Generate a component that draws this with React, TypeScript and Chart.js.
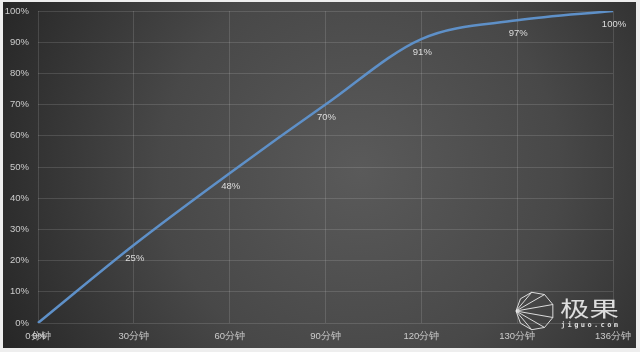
import React, { useEffect, useRef } from "react";
import { Chart, registerables } from "chart.js";

Chart.register(...registerables);

const categories = ["0分钟", "30分钟", "60分钟", "90分钟", "120分钟", "130分钟", "136分钟"];
const chargeValues = [0, 25, 48, 70, 91, 97, 100];
const valueLabels = ["0%", "25%", "48%", "70%", "91%", "97%", "100%"];

const bgPlugin = {
  id: "bgPlugin",
  beforeDraw(chart: any) {
    const { ctx, width, height } = chart;
    ctx.save();
    ctx.fillStyle = "#eeeeee";
    ctx.fillRect(0, 0, width, height);
    const g = ctx.createRadialGradient(360, 170, 0, 360, 170, 400);
    g.addColorStop(0, "#5a5a5a");
    g.addColorStop(0.5, "#484848");
    g.addColorStop(1, "#262626");
    ctx.fillStyle = g;
    ctx.fillRect(3, 2, 633, 346);
    ctx.restore();
  },
  afterDatasetsDraw(chart: any) {
    const { ctx } = chart;
    const meta = chart.getDatasetMeta(0);
    ctx.save();
    ctx.font = "9.5px 'Liberation Sans', Arial, sans-serif";
    ctx.fillStyle = "#dddddd";
    ctx.textAlign = "center";
    ctx.textBaseline = "middle";
    meta.data.forEach((pt: any, i: number) => {
      ctx.fillText(valueLabels[i], pt.x + 1, pt.y + 13);
    });
    // watermark
    const cx = 535, cy = 311, r = 19;
    const n = 9;
    const pts: [number, number][] = [];
    for (let i = 0; i < n; i++) {
      const a = Math.PI + (i * 2 * Math.PI) / n;
      pts.push([cx + r * Math.cos(a), cy + r * Math.sin(a)]);
    }
    ctx.strokeStyle = "rgba(235,235,235,0.9)";
    ctx.lineWidth = 1;
    ctx.beginPath();
    pts.forEach((p, i) => (i === 0 ? ctx.moveTo(p[0], p[1]) : ctx.lineTo(p[0], p[1])));
    ctx.closePath();
    ctx.stroke();
    ctx.beginPath();
    [2, 3, 4, 5, 6, 7].forEach((k) => {
      ctx.moveTo(pts[0][0], pts[0][1]);
      ctx.lineTo(pts[k][0], pts[k][1]);
    });
    ctx.stroke();
    ctx.fillStyle = "rgba(235,235,235,0.92)";
    ctx.textAlign = "left";
    ctx.textBaseline = "alphabetic";
    ctx.save();
    ctx.translate(560, 316);
    ctx.scale(1.4, 1);
    ctx.font = "21px 'Noto Sans CJK SC', sans-serif";
    ctx.fillText("极果", 0, 0);
    ctx.restore();
    ctx.font = "bold 7px 'DejaVu Sans Mono', monospace";
    const s = "jiguo.com";
    for (let i = 0; i < s.length; i++) ctx.fillText(s[i], 561 + i * 6.6, 327);
    ctx.restore();
  },
};

export default function App() {
  const ref = useRef<HTMLCanvasElement>(null);
  useEffect(() => {
    document.body.style.margin = "0";
    const chart = new Chart(ref.current!, {
      type: "line",
      data: {
        labels: categories,
        datasets: [
          {
            data: chargeValues,
            borderColor: "#5e90c8",
            borderWidth: 2.5,
            pointRadius: 0,
            cubicInterpolationMode: "monotone",
            fill: false,
          },
        ],
      },
      options: {
        responsive: false,
        animation: false,
        layout: { padding: { left: 0, right: 27, top: 11, bottom: 0 } },
        plugins: { legend: { display: false }, tooltip: { enabled: false } },
        scales: {
          x: {
            offset: false,
            grid: { color: "rgba(255,255,255,0.13)", drawTicks: false },
            border: { display: false },
            ticks: {
              color: "#cccccc",
              font: { size: 9.5, family: "'Liberation Sans', Arial, sans-serif" },
              padding: 8,
              maxRotation: 0,
              autoSkip: false,
            },
            afterFit(scale: any) {
              scale.height = 29;
            },
          },
          y: {
            min: 0,
            max: 100,
            grid: { color: "rgba(255,255,255,0.13)", drawTicks: false },
            border: { display: false },
            ticks: {
              stepSize: 10,
              color: "#cccccc",
              font: { size: 9.5, family: "'Liberation Sans', Arial, sans-serif" },
              padding: 9,
              callback: (v: any) => v + "%",
            },
            afterFit(scale: any) {
              scale.width = 38;
              scale.paddingTop = 0;
            },
          },
        },
      },
      plugins: [bgPlugin],
    } as any);
    return () => chart.destroy();
  }, []);
  return (
    <div style={{ width: 640, height: 352 }}>
      <canvas ref={ref} width={640} height={352} style={{ display: "block" }} />
    </div>
  );
}
